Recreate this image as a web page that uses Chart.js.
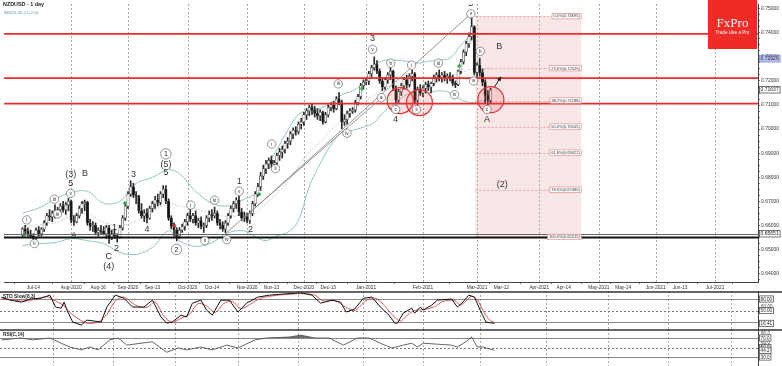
<!DOCTYPE html>
<html>
<head>
<meta charset="utf-8">
<script src="https://cdn.jsdelivr.net/npm/chart.js@4.4.1/dist/chart.umd.min.js"></script>
<style>
  html, body { margin: 0; padding: 0; background: #fff; }
  #wrap { position: relative; width: 782px; height: 366px; overflow: hidden; background: #fff; }
  canvas { position: absolute; left: 0; }
</style>
</head>
<body>
<div id="wrap">
  <canvas id="main" width="782" height="292" style="top:0"></canvas>
  <canvas id="sto" width="782" height="38" style="top:291px"></canvas>
  <canvas id="rsi" width="782" height="37" style="top:329px"></canvas>
</div>
<script>
// first trading day on the chart and number of day slots on the x axis
const startDate = '2020-07-08';
const barCount = 266;

// daily candles [open, high, low, close], one per trading day from startDate
const ohlc = [
  [0.6560,0.6590,0.6550,0.6585],[0.6585,0.6600,0.6565,0.6575],[0.6575,0.6590,0.6555,0.6565],[0.6565,0.6580,0.6548,0.6555],
  [0.6555,0.6565,0.6532,0.6545],[0.6545,0.6590,0.6540,0.6580],[0.6580,0.6595,0.6555,0.6565],[0.6565,0.6590,0.6555,0.6585],
  [0.6585,0.6620,0.6575,0.6610],[0.6610,0.6650,0.6600,0.6640],[0.6640,0.6665,0.6620,0.6635],[0.6635,0.6660,0.6615,0.6650],
  [0.6650,0.6685,0.6630,0.6660],[0.6660,0.6675,0.6640,0.6665],[0.6665,0.6690,0.6650,0.6680],[0.6680,0.6700,0.6655,0.6665],
  [0.6665,0.6695,0.6645,0.6685],[0.6685,0.6712,0.6660,0.6700],[0.6700,0.6705,0.6610,0.6620],[0.6620,0.6640,0.6600,0.6615],
  [0.6615,0.6650,0.6610,0.6640],[0.6640,0.6680,0.6630,0.6670],[0.6670,0.6700,0.6650,0.6690],[0.6690,0.6705,0.6660,0.6695],
  [0.6695,0.6700,0.6600,0.6610],[0.6610,0.6625,0.6580,0.6595],[0.6595,0.6615,0.6575,0.6600],[0.6600,0.6610,0.6560,0.6570],
  [0.6570,0.6590,0.6555,0.6580],[0.6580,0.6600,0.6565,0.6575],[0.6575,0.6595,0.6560,0.6565],[0.6565,0.6600,0.6545,0.6590],
  [0.6590,0.6600,0.6525,0.6545],[0.6545,0.6580,0.6540,0.6565],[0.6565,0.6585,0.6545,0.6555],[0.6555,0.6565,0.6530,0.6550],
  [0.6550,0.6600,0.6545,0.6590],[0.6590,0.6640,0.6580,0.6630],[0.6630,0.6690,0.6620,0.6680],[0.6680,0.6740,0.6670,0.6730],
  [0.6730,0.6785,0.6720,0.6760],[0.6760,0.6775,0.6715,0.6725],[0.6725,0.6740,0.6690,0.6720],[0.6720,0.6725,0.6650,0.6660],
  [0.6660,0.6690,0.6630,0.6640],[0.6640,0.6665,0.6615,0.6650],[0.6650,0.6670,0.6610,0.6630],[0.6630,0.6680,0.6625,0.6670],
  [0.6670,0.6700,0.6655,0.6690],[0.6690,0.6720,0.6670,0.6705],[0.6705,0.6730,0.6680,0.6695],[0.6695,0.6740,0.6685,0.6730],
  [0.6730,0.6765,0.6715,0.6750],[0.6750,0.6765,0.6690,0.6700],[0.6700,0.6710,0.6620,0.6630],[0.6630,0.6640,0.6585,0.6595],
  [0.6595,0.6610,0.6555,0.6580],[0.6580,0.6590,0.6535,0.6555],[0.6555,0.6590,0.6545,0.6580],[0.6580,0.6605,0.6570,0.6595],
  [0.6595,0.6625,0.6580,0.6615],[0.6615,0.6650,0.6600,0.6640],[0.6640,0.6668,0.6615,0.6625],[0.6625,0.6650,0.6610,0.6640],
  [0.6640,0.6660,0.6600,0.6610],[0.6610,0.6630,0.6590,0.6620],[0.6620,0.6635,0.6585,0.6595],[0.6595,0.6610,0.6570,0.6600],
  [0.6600,0.6640,0.6590,0.6630],[0.6630,0.6660,0.6615,0.6645],[0.6645,0.6665,0.6620,0.6640],[0.6640,0.6676,0.6630,0.6650],
  [0.6650,0.6660,0.6600,0.6610],[0.6610,0.6625,0.6585,0.6600],[0.6600,0.6615,0.6575,0.6585],[0.6585,0.6620,0.6570,0.6610],
  [0.6610,0.6650,0.6600,0.6640],[0.6640,0.6680,0.6630,0.6670],[0.6670,0.6700,0.6655,0.6690],[0.6690,0.6715,0.6670,0.6705],
  [0.6705,0.6720,0.6640,0.6655],[0.6655,0.6670,0.6620,0.6630],[0.6630,0.6655,0.6615,0.6635],[0.6635,0.6650,0.6610,0.6620],
  [0.6620,0.6660,0.6608,0.6650],[0.6650,0.6700,0.6640,0.6690],[0.6690,0.6740,0.6680,0.6730],[0.6730,0.6775,0.6720,0.6760],
  [0.6760,0.6820,0.6745,0.6805],[0.6805,0.6850,0.6790,0.6835],[0.6835,0.6870,0.6815,0.6855],[0.6855,0.6880,0.6835,0.6870],
  [0.6870,0.6888,0.6840,0.6855],[0.6855,0.6870,0.6845,0.6860],[0.6860,0.6900,0.6850,0.6890],[0.6890,0.6920,0.6870,0.6905],
  [0.6905,0.6930,0.6880,0.6915],[0.6915,0.6950,0.6900,0.6940],[0.6940,0.6965,0.6920,0.6950],[0.6950,0.6990,0.6935,0.6980],
  [0.6980,0.7005,0.6960,0.6995],[0.6995,0.7010,0.6975,0.6990],[0.6990,0.7030,0.6980,0.7020],[0.7020,0.7045,0.7000,0.7030],
  [0.7030,0.7070,0.7015,0.7060],[0.7060,0.7085,0.7040,0.7075],[0.7075,0.7100,0.7055,0.7090],[0.7090,0.7105,0.7060,0.7080],
  [0.7080,0.7095,0.7050,0.7065],[0.7065,0.7085,0.7040,0.7055],[0.7055,0.7080,0.7035,0.7070],[0.7070,0.7075,0.7020,0.7030],
  [0.7030,0.7070,0.7025,0.7060],[0.7060,0.7100,0.7050,0.7090],[0.7090,0.7110,0.7075,0.7100],[0.7100,0.7115,0.7070,0.7085],
  [0.7085,0.7135,0.7080,0.7125],[0.7125,0.7152,0.7100,0.7110],[0.7110,0.7120,0.7002,0.7030],[0.7030,0.7060,0.7015,0.7040],
  [0.7040,0.7075,0.7020,0.7065],[0.7065,0.7085,0.7050,0.7075],[0.7075,0.7090,0.7065,0.7080],[0.7080,0.7120,0.7070,0.7110],
  [0.7110,0.7145,0.7100,0.7135],[0.7135,0.7190,0.7125,0.7180],[0.7180,0.7205,0.7165,0.7195],[0.7195,0.7210,0.7185,0.7200],
  [0.7200,0.7240,0.7185,0.7230],[0.7230,0.7265,0.7215,0.7255],[0.7255,0.7300,0.7245,0.7270],[0.7270,0.7285,0.7230,0.7240],
  [0.7240,0.7250,0.7190,0.7200],[0.7200,0.7215,0.7160,0.7175],[0.7175,0.7215,0.7165,0.7205],[0.7205,0.7235,0.7190,0.7225],
  [0.7225,0.7255,0.7205,0.7240],[0.7240,0.7245,0.7160,0.7170],[0.7170,0.7180,0.7105,0.7120],[0.7120,0.7165,0.7110,0.7155],
  [0.7155,0.7190,0.7140,0.7180],[0.7180,0.7215,0.7165,0.7205],[0.7205,0.7225,0.7170,0.7185],[0.7185,0.7230,0.7175,0.7220],
  [0.7220,0.7245,0.7200,0.7230],[0.7230,0.7235,0.7110,0.7120],[0.7120,0.7175,0.7100,0.7165],[0.7165,0.7185,0.7140,0.7150],
  [0.7150,0.7180,0.7135,0.7170],[0.7170,0.7195,0.7150,0.7185],[0.7185,0.7200,0.7160,0.7175],[0.7175,0.7195,0.7150,0.7190],
  [0.7190,0.7225,0.7180,0.7215],[0.7215,0.7235,0.7195,0.7225],[0.7225,0.7246,0.7200,0.7215],[0.7215,0.7235,0.7195,0.7225],
  [0.7225,0.7240,0.7200,0.7210],[0.7210,0.7230,0.7190,0.7220],[0.7220,0.7235,0.7200,0.7215],[0.7215,0.7225,0.7180,0.7190],
  [0.7190,0.7200,0.7172,0.7185],[0.7185,0.7245,0.7180,0.7240],[0.7240,0.7290,0.7230,0.7280],[0.7280,0.7330,0.7270,0.7320],
  [0.7320,0.7365,0.7305,0.7355],[0.7355,0.7400,0.7340,0.7385],[0.7385,0.7470,0.7370,0.7425],[0.7425,0.7430,0.7225,0.7235],
  [0.7235,0.7275,0.7215,0.7265],[0.7265,0.7295,0.7220,0.7235],[0.7235,0.7250,0.7180,0.7195],[0.7195,0.7205,0.7110,0.7140],
  [0.7140,0.7160,0.7100,0.7120],[0.7120,0.7170,0.7105,0.7163]
];

// Bollinger band (20, 2) at these bar numbers
const bbIdx = [0,6,12,18,24,30,36,42,48,54,58,64,70,76,82,86,90,94,98,102,106,110,114,118,122,126,130,134,138,142,146,150,154,158,162,166,170,173];
const bbUpper = [0.6651,0.6672,0.6709,0.6737,0.6741,0.6692,0.6700,0.6774,0.6799,0.6831,0.6815,0.6741,0.6692,0.6680,0.6709,0.6733,0.6844,0.6913,0.6995,0.7061,
  0.7081,0.7086,0.7110,0.7143,0.7159,0.7192,0.7266,0.7286,0.7286,0.7282,0.7274,0.7282,0.7286,0.7295,0.7348,0.7389,0.7393,0.7393];
const bbMid = [0.6594,0.6602,0.6610,0.6639,0.6647,0.6614,0.6598,0.6618,0.6659,0.6688,0.6680,0.6668,0.6651,0.6635,0.6647,0.6651,0.6688,0.6733,0.6782,0.6844,
  0.6905,0.6946,0.6995,0.7036,0.7077,0.7110,0.7143,0.7172,0.7200,0.7209,0.7213,0.7213,0.7217,0.7221,0.7233,0.7250,0.7250,0.7250];
const bbLower = [0.6516,0.6524,0.6528,0.6545,0.6536,0.6524,0.6487,0.6479,0.6508,0.6577,0.6536,0.6512,0.6528,0.6569,0.6577,0.6553,0.6536,0.6557,0.6570,0.6620,
  0.6762,0.6856,0.6934,0.6987,0.6995,0.7008,0.7028,0.7077,0.7110,0.7143,0.7151,0.7151,0.7159,0.7151,0.7122,0.7110,0.7118,0.7122];

// slow stochastic %K and %D
const stoIdx = [0,3,7,10,14,17,19,21,22,23,25,28,30,35,37,40,43,46,50,53,56,58,60,63,65,67,70,72,74,77,80,83,86,90,94,99,105,109,112,116,
  119,121,124,127,130,133,136,138,139,141,144,145,147,148,151,153,158,160,162,164,166,168,170,173];
const stoK = [85,77,72,80,82,90,59,56,72,51,20,12,25,20,59,90,82,59,59,77,33,17,20,38,33,69,77,51,38,77,77,46,69,85,90,93,96,90,69,77,
  72,46,54,82,85,59,38,17,17,43,56,43,59,51,64,77,80,59,72,90,85,51,20,16.41];
const stoDIdx = [0,4,8,12,16,19,22,24,27,30,34,37,40,43,47,51,54,57,60,63,66,69,72,75,78,81,84,87,91,95,
  100,106,110,113,117,121,124,128,131,134,137,140,142,145,148,152,155,159,161,163,165,167,169,171,173];
const stoD = [82,78,74,80,86,75,62,45,28,17,20,40,75,85,64,58,72,35,19,30,40,68,62,45,68,74,55,65,82,88,
  92,94,90,75,76,58,50,76,83,66,40,22,35,50,52,60,74,76,64,74,87,78,50,28,18];

// RSI(14)
const rsiIdx = [0,7,11,17,21,24,28,31,34,38,41,44,49,53,58,62,65,70,74,79,83,89,93,101,105,110,115,120,125,129,133,137,141,144,146,148,153,158,160,163,165,167,169,173];
const rsiVal = [66,70,66,70,59,51,45,51,45,66,70,55,59,62,40,49,45,51,45,55,49,66,70,72,76,70,70,55,70,70,59,49,55,59,51,59,57,55,51,62,72,51,51,44.2];

// x axis labels
const tickDates = ['2020-07-14','2020-08-03','2020-08-17','2020-09-01','2020-09-14','2020-10-01','2020-10-14','2020-11-02','2020-11-13','2020-12-01','2020-12-14',
  '2021-01-01','2021-02-01','2021-03-01','2021-03-12','2021-04-01','2021-04-14','2021-05-03','2021-05-14','2021-06-01','2021-06-14','2021-07-01'];
const tickLabels = ['Jul-14','Aug-2020','Aug-16','Sep-2020','Sep-13','Oct-2020','Oct-14','Nov-2020','Nov-13','Dec-2020','Dec-13',
  'Jan-2021','Feb-2021','Mar-2021','Mar-12','Apr-2021','Apr-14','May-2021','May-14','Jun-2021','Jun-13','Jul-2021'];
const priceTicks = [0.64,0.65,0.66,0.67,0.68,0.69,0.70,0.71,0.72,0.73,0.74,0.75];

// drawn objects
const redLevels = [0.7396, 0.7212, 0.7106];
const baseLevels = [0.65651, 0.65515];
const fibLevels = [['0.0%',0.74695],['23.6%',0.72529],['38.2%',0.71188],['50.0%',0.70105],['61.8%',0.69022],['78.6%',0.67480],['100.0%',0.65515]];
const fibSpan = [167.4, 206.5];
const trendLines = [[81.5,0.66266,165.7,0.74790],[74.5,0.65610,133.3,0.71348]];
const zoneCircles = [[139.6,0.71184],[146.7,0.71102],[173.1,0.71225]];
const arrowPath = [174.5,0.7176,176.6,0.7213];
const greenMarks = [[0.6,0.6557],[37.9,0.6692],[87.5,0.6729],[125.5,0.7168],[161.4,0.7262]];
const redMarks = [[56.2,0.6598]];
const bidTag = 0.72926, lastTag = 0.71637, baseTag = 0.65651;

// wave count: [text, bar, price, kind]  t = plain, c = small circle, C = big circle
const waveLabels = [
  ['i',1.6,0.66225,'c'],['ii',4.4,0.65241,'c'],['iii',11.8,0.67086,'c'],['iv',12.9,0.66470,'c'],
  ['(3)',17.8,0.68110,'t'],['5',17.8,0.67741,'t'],['v',17.8,0.67331,'c'],['B',23.1,0.68151,'t'],['A',18.9,0.65569,'t'],
  ['1',34.0,0.65897,'t'],['2',34.7,0.65036,'t'],['C',31.9,0.64708,'t'],['(4)',31.9,0.64298,'t'],
  ['3',41.0,0.68110,'t'],['4',46.0,0.65815,'t'],['1',53.0,0.68970,'C'],['(5)',53.0,0.68520,'t'],['5',53.0,0.68192,'t'],['2',56.9,0.64995,'C'],
  ['i',62.2,0.66840,'c'],['ii',67.4,0.65364,'c'],['iii',71.0,0.67045,'c'],['iv',75.5,0.65405,'c'],['1',80.1,0.67823,'t'],['v',80.1,0.67413,'c'],['2',84.3,0.65815,'t'],
  ['i',92.1,0.69380,'c'],['ii',93.5,0.68356,'c'],['iii',116.7,0.71880,'c'],['iv',119.9,0.69831,'c'],['3',129.4,0.73766,'t'],['v',129.4,0.73315,'c'],
  ['a',132.6,0.71307,'c'],['b',136.1,0.72741,'c'],['c',137.9,0.70815,'c'],['4',137.9,0.70405,'t'],
  ['i',143.8,0.72659,'c'],['ii',145.6,0.70815,'c'],['iii',153.7,0.72741,'c'],['iv',159.7,0.71430,'c'],['5',165.7,0.75230,'t'],['v',165.7,0.74790,'c'],
  ['a',166.7,0.72003,'c'],['b',169.2,0.73233,'c'],['c',171.7,0.70815,'c'],['A',171.7,0.70405,'t'],['B',176.2,0.73438,'t'],['(2)',177.3,0.67700,'t']
];

// trading-day slots (Mon-Fri)
const days = [];
for (const d = new Date(startDate + 'T00:00:00Z'); days.length < barCount; d.setUTCDate(d.getUTCDate() + 1)) {
  if (d.getUTCDay() % 6 !== 0) days.push(d.toISOString().slice(0, 10));
}
const tickIdx = tickDates.map(d => days.indexOf(d));
const monthIdx = tickIdx.filter((v, k) => /-20\d\d$/.test(tickLabels[k]));

Chart.defaults.font.family = 'Liberation Sans';
Chart.defaults.animation = false;
Chart.defaults.plugins.legend.display = false;
Chart.defaults.plugins.tooltip.enabled = false;

const FONT = '"Liberation Sans", Arial, sans-serif';

function drawMonthLines(chart) {
  const { ctx, chartArea: a, scales: { x } } = chart;
  ctx.save();
  ctx.strokeStyle = '#a8a8a8';
  ctx.lineWidth = 1;
  ctx.setLineDash([2, 2]);
  monthIdx.forEach(i => {
    const xx = Math.round(x.getPixelForValue(i)) + 0.5;
    ctx.beginPath(); ctx.moveTo(xx, a.top); ctx.lineTo(xx, a.bottom); ctx.stroke();
  });
  ctx.restore();
}

function tagBox(ctx, text, left, yy, fill, stroke, color, size) {
  ctx.font = size + 'px ' + FONT;
  const w = ctx.measureText(text).width + 3, h = size + 1.6;
  ctx.fillStyle = fill;
  ctx.fillRect(left, yy - h / 2, w, h);
  ctx.strokeStyle = stroke;
  ctx.lineWidth = 0.8;
  ctx.strokeRect(left + 0.5, yy - h / 2, w - 0.5, h);
  ctx.fillStyle = color;
  ctx.textAlign = 'left';
  ctx.textBaseline = 'middle';
  ctx.fillText(text, left + 1.6, yy + 0.3);
}

function xAxis(show) {
  return {
    type: 'linear', min: -0.5, max: barCount - 0.5, display: show,
    afterBuildTicks: s => { s.ticks = tickIdx.map(v => ({ value: v })); },
    afterFit: s => {
      s.height = show ? 10 : 0;
      s.paddingLeft = 0; s.paddingRight = 0;
    },
    ticks: {
      autoSkip: false, maxRotation: 0, padding: 1, color: '#333',
      font: { size: 4.8 },
      callback: v => tickLabels[tickIdx.indexOf(v)]
    },
    grid: { drawOnChartArea: false, tickLength: 2, color: '#666' },
    border: { color: '#444' }
  };
}

const mainDecor = {
  id: 'mainDecor',
  beforeDatasetsDraw(chart) {
    const { ctx, chartArea: a, scales: { x, y } } = chart;
    drawMonthLines(chart);
    ctx.save();
    ctx.beginPath(); ctx.rect(a.left, a.top, a.right - a.left, a.bottom - a.top); ctx.clip();
    const x0 = x.getPixelForValue(fibSpan[0]), x1 = x.getPixelForValue(fibSpan[1]);
    const yt = y.getPixelForValue(fibLevels[0][1]), yb = y.getPixelForValue(fibLevels[fibLevels.length - 1][1]);
    ctx.fillStyle = 'rgba(236,176,176,0.32)';
    ctx.fillRect(x0, yt, x1 - x0, yb - yt);
    ctx.strokeStyle = '#e8a2a2';
    ctx.lineWidth = 1;
    ctx.setLineDash([2, 2]);
    fibLevels.forEach(([, v]) => {
      const yy = Math.round(y.getPixelForValue(v)) + 0.5;
      ctx.beginPath(); ctx.moveTo(x0, yy); ctx.lineTo(x1, yy); ctx.stroke();
    });
    ctx.restore();
  },
  afterDatasetsDraw(chart) {
    const { ctx, chartArea: a, scales: { x, y } } = chart;
    ctx.save();
    ctx.beginPath(); ctx.rect(a.left, a.top, a.right - a.left, a.bottom - a.top); ctx.clip();
    // horizontal levels
    ctx.strokeStyle = '#ee2a2a';
    ctx.lineWidth = 1.7;
    redLevels.forEach(v => {
      const yy = y.getPixelForValue(v);
      ctx.beginPath(); ctx.moveTo(a.left, yy); ctx.lineTo(a.right, yy); ctx.stroke();
    });
    baseLevels.forEach((v, k) => {
      const yy = Math.round(y.getPixelForValue(v)) + 0.5;
      ctx.strokeStyle = k === 0 ? '#666' : '#111';
      ctx.lineWidth = k === 0 ? 1 : 1.8;
      ctx.beginPath(); ctx.moveTo(a.left, yy); ctx.lineTo(a.right, yy); ctx.stroke();
    });
    // trend lines
    ctx.strokeStyle = '#888';
    ctx.lineWidth = 0.9;
    trendLines.forEach(([i0, p0, i1, p1]) => {
      ctx.beginPath();
      ctx.moveTo(x.getPixelForValue(i0), y.getPixelForValue(p0));
      ctx.lineTo(x.getPixelForValue(i1), y.getPixelForValue(p1));
      ctx.stroke();
    });
    // support zones
    zoneCircles.forEach(([i, p]) => {
      ctx.beginPath();
      ctx.arc(x.getPixelForValue(i), y.getPixelForValue(p), 13, 0, Math.PI * 2);
      ctx.fillStyle = 'rgba(240,70,70,0.16)';
      ctx.fill();
      ctx.strokeStyle = '#e83030';
      ctx.lineWidth = 1.2;
      ctx.stroke();
    });
    // arrow
    const ax0 = x.getPixelForValue(arrowPath[0]), ay0 = y.getPixelForValue(arrowPath[1]);
    const ax1 = x.getPixelForValue(arrowPath[2]), ay1 = y.getPixelForValue(arrowPath[3]);
    const ang = Math.atan2(ay1 - ay0, ax1 - ax0);
    ctx.strokeStyle = '#111'; ctx.fillStyle = '#111'; ctx.lineWidth = 1;
    ctx.beginPath(); ctx.moveTo(ax0, ay0); ctx.lineTo(ax1, ay1); ctx.stroke();
    ctx.beginPath();
    ctx.moveTo(ax1 + Math.cos(ang) * 2, ay1 + Math.sin(ang) * 2);
    ctx.lineTo(ax1 + Math.cos(ang + 2.5) * 3.5, ay1 + Math.sin(ang + 2.5) * 3.5);
    ctx.lineTo(ax1 + Math.cos(ang - 2.5) * 3.5, ay1 + Math.sin(ang - 2.5) * 3.5);
    ctx.closePath(); ctx.fill();
    // wave labels
    ctx.textAlign = 'center';
    ctx.textBaseline = 'middle';
    waveLabels.forEach(([t, i, p, k]) => {
      const xx = x.getPixelForValue(i), yy = y.getPixelForValue(p);
      if (k === 't') {
        ctx.font = '9px ' + FONT;
        ctx.fillStyle = '#333';
        ctx.fillText(t, xx, yy);
      } else {
        const r = k === 'C' ? 5.2 : 4.2;
        ctx.beginPath(); ctx.arc(xx, yy, r, 0, Math.PI * 2);
        ctx.fillStyle = 'rgba(255,255,255,0.9)'; ctx.fill();
        ctx.strokeStyle = '#666'; ctx.lineWidth = 0.7; ctx.stroke();
        ctx.font = (k === 'C' ? 7 : 4.6) + 'px ' + FONT;
        ctx.fillStyle = '#222';
        ctx.fillText(t, xx, yy + 0.3);
      }
    });
    // fib labels
    const xr = x.getPixelForValue(fibSpan[1]);
    ctx.font = '4px ' + FONT;
    fibLevels.forEach(([pct, v]) => {
      const s = pct + '(' + v.toFixed(5) + ')';
      const w = ctx.measureText(s).width + 3, yy = y.getPixelForValue(v);
      ctx.fillStyle = '#fff';
      ctx.fillRect(xr - w, yy - 2.7, w, 5.4);
      ctx.strokeStyle = '#e29090'; ctx.lineWidth = 0.7;
      ctx.strokeRect(xr - w, yy - 2.7, w, 5.4);
      ctx.fillStyle = '#333';
      ctx.fillText(s, xr - w / 2, yy + 0.2);
    });
    ctx.restore();
  },
  afterDraw(chart) {
    const { ctx, chartArea: a, scales: { y } } = chart;
    ctx.save();
    const left = a.right + 1;
    tagBox(ctx, bidTag.toFixed(5), left, y.getPixelForValue(bidTag), '#b9c1f0', '#8088cc', '#223', 5);
    tagBox(ctx, lastTag.toFixed(5), left, y.getPixelForValue(lastTag), '#fff', '#555', '#222', 5);
    tagBox(ctx, baseTag.toFixed(5), left, y.getPixelForValue(baseTag), '#fff', '#555', '#222', 5);
    // titles
    ctx.textAlign = 'left'; ctx.textBaseline = 'middle';
    ctx.fillStyle = '#222';
    ctx.font = 'bold 5.4px ' + FONT;
    ctx.fillText('NZDUSD - 1 day', 3, 5);
    ctx.fillStyle = '#5a9fa0';
    ctx.font = '4.4px ' + FONT;
    ctx.fillText('BB(20,20,2.0,2.0)', 4, 12.3);
    // logo
    ctx.fillStyle = '#ef2b26';
    ctx.fillRect(a.right - 50, 0, 49, 49);
    ctx.fillStyle = '#fff';
    ctx.textAlign = 'center';
    ctx.textBaseline = 'alphabetic';
    ctx.font = '13px "Liberation Serif", serif';
    ctx.fillText('FxPro', a.right - 25.5, 27);
    ctx.font = '4.6px ' + FONT;
    ctx.fillText('Trade Like a Pro', a.right - 25.5, 33.5);
    ctx.restore();
  }
};

const upOrDown = ctx => {
  const c = ohlc[ctx.dataIndex];
  return c && c[3] >= c[0] ? '#f7f7f7' : '#151515';
};

new Chart(document.getElementById('main'), {
  type: 'bar',
  data: {
    datasets: [
      {
        type: 'bar', label: 'body', order: 0, grouped: false,
        data: ohlc.map((c, i) => ({ x: i, y: [c[0], c[3]] })),
        barThickness: 2.4, minBarLength: 1, borderSkipped: false,
        backgroundColor: upOrDown, borderColor: '#3a3a3a', borderWidth: 0.6
      },
      {
        type: 'bar', label: 'wick', order: 1, grouped: false,
        data: ohlc.map((c, i) => ({ x: i, y: [c[2], c[1]] })),
        barThickness: 1, backgroundColor: '#2a2a2a'
      },
      {
        type: 'line', label: 'BB upper', order: 3,
        data: bbIdx.map((v, k) => ({ x: v, y: bbUpper[k] })),
        borderColor: '#8fc5c5', borderWidth: 1, pointRadius: 0, tension: 0.35
      },
      {
        type: 'line', label: 'BB mid', order: 3,
        data: bbIdx.map((v, k) => ({ x: v, y: bbMid[k] })),
        borderColor: '#b4bebe', borderWidth: 0.8, borderDash: [1.5, 1.5], pointRadius: 0, tension: 0.35
      },
      {
        type: 'line', label: 'BB lower', order: 3,
        data: bbIdx.map((v, k) => ({ x: v, y: bbLower[k] })),
        borderColor: '#8fc5c5', borderWidth: 1, pointRadius: 0, tension: 0.35
      },
      {
        type: 'line', label: 'buy', order: -1, showLine: false,
        data: greenMarks.map(([i, p]) => ({ x: i, y: p })),
        pointRadius: 1.8, pointBackgroundColor: '#2fa84a', pointBorderWidth: 0
      },
      {
        type: 'line', label: 'sell', order: -1, showLine: false,
        data: redMarks.map(([i, p]) => ({ x: i, y: p })),
        pointRadius: 1.8, pointBackgroundColor: '#d83030', pointBorderWidth: 0
      }
    ]
  },
  options: {
    responsive: false,
    layout: { padding: 0 },
    scales: {
      x: xAxis(true),
      y: {
        type: 'linear', position: 'right', min: 0.63643, max: 0.752,
        afterBuildTicks: s => {
          const t = [];
          for (let v = 0.6375; v < 0.752; v += 0.0025) t.push({ value: +v.toFixed(4) });
          s.ticks = t;
        },
        afterFit: s => { s.width = 24; s.paddingTop = 0; s.paddingBottom = 0; },
        ticks: {
          autoSkip: false, padding: 1, color: '#333', font: { size: 5 },
          callback: v => priceTicks.some(p => Math.abs(p - v) < 1e-6) ? v.toFixed(5) : ''
        },
        grid: { drawOnChartArea: false, tickLength: 2, color: '#777' },
        border: { color: '#444' }
      }
    }
  },
  plugins: [mainDecor]
});

function panelDecor(title, solid, dashed, boxes, plain, digits) {
  return {
    id: 'panelDecor',
    beforeDatasetsDraw(chart) {
      const { ctx, chartArea: a, scales: { y } } = chart;
      drawMonthLines(chart);
      ctx.save();
      ctx.lineWidth = 1;
      ctx.strokeStyle = '#8a8a8a';
      solid.forEach(v => {
        const yy = Math.round(y.getPixelForValue(v)) + 0.5;
        ctx.beginPath(); ctx.moveTo(a.left, yy); ctx.lineTo(a.right, yy); ctx.stroke();
      });
      ctx.strokeStyle = '#777';
      ctx.setLineDash([2, 2]);
      dashed.forEach(v => {
        const yy = Math.round(y.getPixelForValue(v)) + 0.5;
        ctx.beginPath(); ctx.moveTo(a.left, yy); ctx.lineTo(a.right, yy); ctx.stroke();
      });
      ctx.restore();
    },
    afterDraw(chart) {
      const { ctx, chartArea: a, scales: { y } } = chart;
      ctx.save();
      ctx.strokeStyle = '#333';
      ctx.lineWidth = 1.4;
      ctx.beginPath(); ctx.moveTo(0, 1); ctx.lineTo(chart.width, 1); ctx.stroke();
      ctx.fillStyle = '#222';
      ctx.font = 'bold 4.8px ' + FONT;
      ctx.textAlign = 'left'; ctx.textBaseline = 'middle';
      ctx.fillText(title, 3, 5.5);
      ctx.font = '4.6px ' + FONT;
      ctx.fillStyle = '#444';
      plain.forEach(v => ctx.fillText(v.toFixed(digits), a.right + 3, y.getPixelForValue(v)));
      boxes.forEach(v => tagBox(ctx, v.toFixed(digits), a.right + 1, y.getPixelForValue(v), '#fff', '#555', '#222', 4.6));
      ctx.restore();
    }
  };
}

function panelY(min, max) {
  return {
    type: 'linear', position: 'right', min, max,
    afterFit: s => { s.width = 24; s.paddingTop = 0; s.paddingBottom = 0; },
    ticks: { display: false },
    grid: { drawOnChartArea: false, drawTicks: false },
    border: { color: '#444' }
  };
}

new Chart(document.getElementById('sto'), {
  type: 'line',
  data: {
    datasets: [
      { label: '%K', data: stoIdx.map((v, k) => ({ x: v, y: stoK[k] })), borderColor: '#111', borderWidth: 1, pointRadius: 0 },
      { label: '%D', data: stoDIdx.map((v, k) => ({ x: v, y: stoD[k] })), borderColor: '#d84848', borderWidth: 0.9, pointRadius: 0, tension: 0.3 }
    ]
  },
  options: {
    responsive: false,
    layout: { padding: 0 },
    scales: { x: xAxis(false), y: panelY(1.74, 100.87) }
  },
  plugins: [panelDecor('STO Slow(8,3)', [80, 20], [50], [80, 50, stoK[stoK.length - 1]], [60], 2)]
});

new Chart(document.getElementById('rsi'), {
  type: 'line',
  data: {
    datasets: [
      {
        label: 'RSI', data: rsiIdx.map((v, k) => ({ x: v, y: rsiVal[k] })),
        borderColor: '#555', borderWidth: 0.9, pointRadius: 0,
        fill: { target: { value: 70 }, above: '#6a6a6a', below: 'rgba(0,0,0,0)' }
      }
    ]
  },
  options: {
    responsive: false,
    layout: { padding: 0 },
    scales: { x: xAxis(false), y: panelY(11.05, 88.95) }
  },
  plugins: [panelDecor('RSI(C,14)', [70, 30], [50], [70, 50, rsiVal[rsiVal.length - 1], 30], [80, 60], 1)]
});
</script>
</body>
</html>
